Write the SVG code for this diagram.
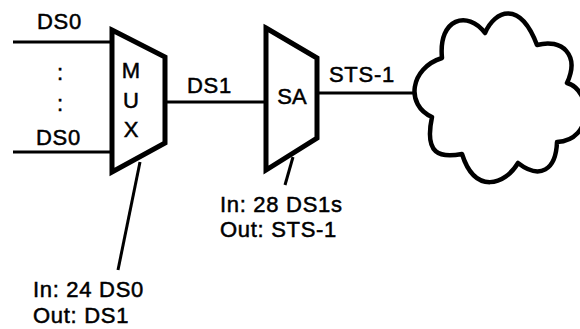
<svg xmlns="http://www.w3.org/2000/svg" width="580" height="329" viewBox="0 0 580 329">
<style>
text{font-family:"Liberation Sans",Arial,sans-serif;font-size:22px;fill:#000;stroke:#000;stroke-width:0.5px;letter-spacing:0.7px}
.mid{text-anchor:middle;letter-spacing:0}
.ln{stroke:#000;stroke-width:3;fill:none}
.box{stroke:#000;stroke-width:5;fill:#fff;stroke-linejoin:miter}
.cloud{stroke:#000;stroke-width:4.5;fill:#fff;stroke-linejoin:round}
</style>
<rect width="580" height="329" fill="#fff"/>
<g id="connectors">
<line class="ln" x1="13" y1="42" x2="112" y2="42"/>
<line class="ln" x1="13" y1="152" x2="112" y2="152"/>
<line class="ln" x1="165" y1="102" x2="266" y2="102"/>
<line class="ln" x1="317" y1="93" x2="413" y2="93"/>
<line class="ln" x1="140" y1="162" x2="118" y2="270"/>
<line class="ln" x1="293" y1="157" x2="285" y2="185"/>
</g>
<g id="inputs">
<text x="37" y="29">DS0</text>
<text class="mid" x="60" y="80">:</text>
<text class="mid" x="60" y="111">:</text>
<text x="36" y="145">DS0</text>
</g>
<g id="mux">
<polygon class="box" points="112,30 165,57 165,143 112,172"/>
<text class="mid" x="131" y="78">M</text>
<text class="mid" x="131" y="108">U</text>
<text class="mid" x="131" y="137">X</text>
</g>
<g id="mux-note">
<text x="33" y="297">In: 24 DS0</text>
<text x="33" y="323">Out: DS1</text>
</g>
<text x="187" y="93">DS1</text>
<g id="sa">
<polygon class="box" points="266,28 317,58 317,138 266,170"/>
<text class="mid" x="292" y="104">SA</text>
</g>
<g id="sa-note">
<text x="220" y="212">In: 28 DS1s</text>
<text x="220" y="237">Out: STS-1</text>
</g>
<text x="329" y="82">STS-1</text>
<g id="cloud">
<path class="cloud" d="M432,117 C405,105 410,68 442,58 C438,18 468,10 485,33 C495,10 520,0 537,45 C562,38 580,55 567,83 C592,90 594,140 557,142 C556,170 540,180 518,163 C505,185 475,195 462,154 C440,158 424,155 432,117 Z"/>
</g>
</svg>
